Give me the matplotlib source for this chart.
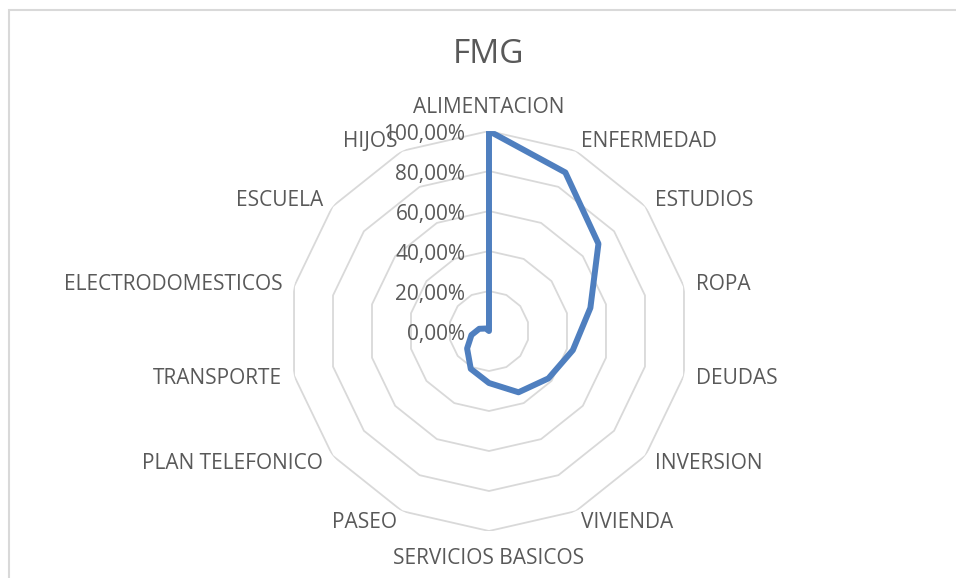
import numpy as np
import matplotlib.pyplot as plt
from matplotlib.patches import Rectangle

# Categories going clockwise from the top
categories = ['ALIMENTACION', 'ENFERMEDAD', 'ESTUDIOS', 'ROPA', 'DEUDAS',
              'INVERSION', 'VIVIENDA', 'SERVICIOS BASICOS', 'PASEO',
              'PLAN TELEFONICO', 'TRANSPORTE', 'ELECTRODOMESTICOS',
              'ESCUELA', 'HIJOS']
fmg = [1.00, 0.88, 0.70, 0.52, 0.43, 0.38, 0.34, 0.26, 0.21, 0.14,
       0.09, 0.05, 0.02, 0.00]
ring_values = [0.0, 0.2, 0.4, 0.6, 0.8, 1.0]
ring_labels = ['0,00%', '20,00%', '40,00%', '60,00%', '80,00%', '100,00%']

plt.rcParams['font.family'] = ['Open Sans', 'DejaVu Sans']
text_color = '#595959'
grid_color = '#d9d9d9'
line_color = '#4f7fbf'

fig = plt.figure(figsize=(9.56, 5.78), dpi=100)
# chart area border (cut off at right and bottom)
fig.patches.append(Rectangle((8.5 / 956, -0.1), 1.2, 1.1 - 9.5 / 578,
                             transform=fig.transFigure, fill=False,
                             ec=grid_color, lw=1.5))

ax = fig.add_axes([0.3023, 0.0813, 0.4184, 0.692], projection='polar')
ax.set_theta_offset(np.pi / 2)
ax.set_theta_direction(-1)
ax.set_ylim(0, 1)
ax.grid(False)
ax.spines['polar'].set_visible(False)
ax.set_xticks([])
ax.set_yticks([])
ax.patch.set_alpha(0)

n = len(categories)
angles = np.arange(n) * 2 * np.pi / n
closed = np.append(angles, angles[0])

# polygon gridlines
for r in ring_values[1:]:
    ax.plot(closed, [r] * (n + 1), color=grid_color, lw=1.3, zorder=1)

# data line
vals = np.append(fmg, fmg[0])
ax.plot(closed, vals, color=line_color, lw=4.3, zorder=3,
        solid_joinstyle='round', solid_capstyle='round')

# value axis labels (left of the vertical axis)
for r, lab in zip(ring_values, ring_labels):
    ax.annotate(lab, xy=(0, r), xytext=(-17, -2.5), textcoords='offset points',
                ha='right', va='center', fontsize=15, color=text_color,
                annotation_clip=False, zorder=4)

# category labels
for ang, cat in zip(angles, categories):
    s, c = np.sin(ang), np.cos(ang)
    rr = 1.06
    dy = -1.5 * max(c, 0)
    if abs(s) < 0.1:
        ha = 'center'
        rr = 1.065 if c > 0 else 1.085
        dy = 0
    elif s > 0:
        ha = 'left'
    else:
        ha = 'right'
    if c > 0.95:
        va = 'bottom'
    elif c < -0.95:
        va = 'top'
    else:
        va = 'center'
    ax.annotate(cat, xy=(ang, rr), xytext=(0, dy), textcoords='offset points',
                ha=ha, va=va, fontsize=15, color=text_color,
                annotation_clip=False)

fig.text(0.511, 0.906, 'FMG', ha='center', va='center', fontsize=24,
         color=text_color)

fig.savefig('out.png', dpi=100)
